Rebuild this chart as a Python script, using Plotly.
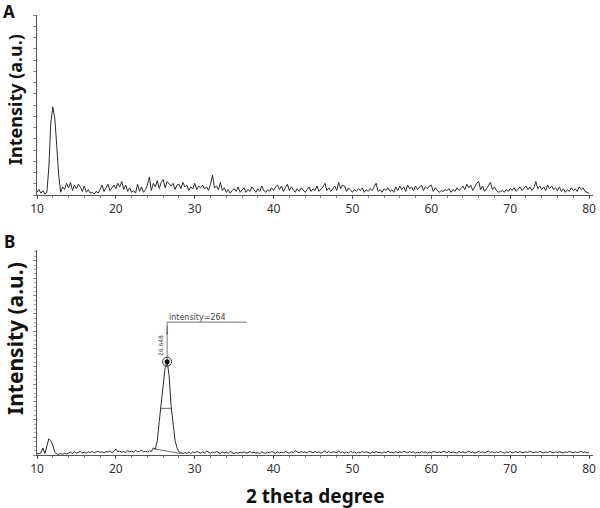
import numpy as np
import plotly.graph_objects as go

# ---------------- data ----------------
TWO_THETA_START = 10.0
TWO_THETA_STEP = 0.25

intensity_A = [
    3, 6, 2, 5,   1, 3, 30, 80,   98, 86, 55, 22,   3, 9, 6, 13,
    8, 14, 5, 11,  7, 12, 9, 4,   10, 3, 6, 2,   3, 1, 4, 2,
    6, 11, 4, 9,  12, 5, 8, 11,   7, 13, 9, 15,   6, 11, 4, 8,
    3, 5, 2, 12,  4, 9, 3, 6,   11, 20, 5, 13,   9, 16, 7, 14,
    17, 8, 15, 12,  10, 13, 6, 11,   12, 7, 14, 9,   11, 5, 9, 7,
    13, 6, 10, 8,  11, 7, 9, 5,   12, 22, 8, 10,   6, 14, 5, 8,
    3, 6, 2, 5,   7, 4, 9, 3,   5, 8, 3, 6,   4, 9, 6, 3,
    7, 4, 10, 5,  3, 6, 4, 8,   5, 9, 11, 6,   10, 4, 8, 12,
    5, 9, 6, 3,   7, 4, 8, 5,   3, 6, 9, 4,   7, 5, 10, 4,
    6, 9, 13, 5,  8, 4, 7, 10,   5, 14, 7, 11,   10, 4, 8, 5,
    3, 6, 4, 7,   5, 8, 3, 6,   4, 7, 5, 9,   13, 4, 6, 3,
    7, 5, 8, 4,   6, 3, 9, 5,   10, 6, 9, 4,   11, 7, 9, 5,
    10, 6, 8, 11,  5, 9, 7, 10,   11, 4, 8, 5,   3, 5, 4, 6,
    5, 7, 3, 6,   4, 8, 5, 7,   10, 6, 12, 8,   11, 5, 9, 13,
    15, 6, 10, 4,  7, 11, 14, 6,   9, 5, 3, 4,   5, 3, 6, 4,
    7, 5, 8, 4,   6, 9, 5, 7,   10, 6, 9, 5,   8, 15, 7, 10,
    6, 9, 5, 11,  7, 10, 6, 8,   5, 9, 4, 7,   3, 6, 4, 8,
    5, 7, 4, 9,   6, 8, 4, 3,   2,
]

intensity_B = [
    4, 3, 6, 20,   4, 28, 46, 40,   28, 8, 3, 2,   4, 2, 5, 3,
    6, 8, 4, 9,    5, 7, 10, 6,   8, 5, 9, 7,   10, 6, 8, 11,
    7, 9, 6, 10,   8, 12, 7, 10,   17, 9, 11, 8,   10, 7, 12, 9,
    11, 8, 13, 9,  10, 14, 9, 11,   8, 12, 10, 20,   16, 40, 95, 150,
    205, 248, 264, 225,   140, 82, 42, 20,   9, 6, 4, 7,   5, 8, 4, 9,
    6, 10, 7, 5,   9, 6, 11, 7,   5, 8, 6, 10,   7, 4, 9, 6,
    8, 5, 10, 6,   4, 7, 5, 8,   6, 9, 5, 7,   10, 6, 8, 5,
    7, 4, 9, 6,    5, 8, 6, 10,   7, 5, 9, 6,   8, 6, 10, 7,
    5, 9, 7, 12,   8, 6, 10, 7,   9, 5, 11, 8,   6, 10, 7, 9,
    5, 8, 12, 7,   10, 6, 9, 8,   7, 11, 6, 9,   5, 8, 6, 10,
    7, 9, 5, 8,    6, 10, 7, 9,   8, 5, 9, 6,   10, 7, 8, 5,
    9, 6, 11, 7,   8, 5, 10, 6,   9, 7, 11, 8,   6, 10, 7, 9,
    5, 8, 6, 10,   7, 9, 5, 8,   6, 10, 8, 7,   9, 6, 11, 8,
    7, 10, 6, 9,   8, 5, 10, 7,   9, 6, 8, 11,   7, 9, 5, 8,
    10, 7, 9, 6,   8, 11, 7, 9,   6, 9, 7, 10,   8, 5, 9, 7,
    10, 6, 8, 9,   7, 10, 6, 8,   9, 7, 11, 8,   6, 9, 7, 10,
    8, 6, 9, 7,    10, 8, 6, 9,   7, 9, 8, 6,   9, 7, 10, 8,
    6, 9, 7, 8,    10, 7, 9, 6,   8,
]

two_theta_A = [TWO_THETA_START + TWO_THETA_STEP * i for i in range(len(intensity_A))]
two_theta_B = [TWO_THETA_START + TWO_THETA_STEP * i for i in range(len(intensity_B))]

x_ticks = [10, 20, 30, 40, 50, 60, 70, 80]

# peak annotation data (panel B)
peak_x = 26.5
peak_y = 264
peak_label = "intensity=264"
peak_pos_label = "26.648"
bg_line_x = [24.75, 28.2]
bg_line_y = [18, 4]
fwhm_x = [25.62, 27.0]
fwhm_y = [132, 132]
leader_top_y = 376
leader_right_x = 36.6

LINE = "#2b2b2b"
AXIS = "#555555"
FONT = "Noto Sans"

fig = go.Figure()
fig.add_trace(go.Scatter(x=two_theta_A, y=intensity_A, mode="lines",
                         line=dict(color=LINE, width=1), xaxis="x", yaxis="y",
                         showlegend=False, hoverinfo="skip"))
fig.add_trace(go.Scatter(x=two_theta_B, y=intensity_B, mode="lines",
                         line=dict(color=LINE, width=1), xaxis="x2", yaxis="y2",
                         showlegend=False, hoverinfo="skip"))
# background line and FWHM bar
fig.add_trace(go.Scatter(x=bg_line_x, y=bg_line_y, mode="lines",
                         line=dict(color="#444", width=0.8), xaxis="x2", yaxis="y2",
                         showlegend=False, hoverinfo="skip"))
fig.add_trace(go.Scatter(x=fwhm_x, y=fwhm_y, mode="lines",
                         line=dict(color="#444", width=0.8), xaxis="x2", yaxis="y2",
                         showlegend=False, hoverinfo="skip"))
# leader line
fig.add_trace(go.Scatter(x=[peak_x, peak_x, leader_right_x],
                         y=[peak_y, leader_top_y, leader_top_y], mode="lines",
                         line=dict(color="#555", width=0.8), xaxis="x2", yaxis="y2",
                         showlegend=False, hoverinfo="skip"))
# peak marker
fig.add_trace(go.Scatter(x=[peak_x], y=[peak_y], mode="markers",
                         marker=dict(symbol="circle-open", size=9, color="#333", line=dict(width=1)),
                         xaxis="x2", yaxis="y2", showlegend=False, hoverinfo="skip"))
fig.add_trace(go.Scatter(x=[peak_x], y=[peak_y], mode="markers",
                         marker=dict(symbol="circle", size=5, color="#111"),
                         xaxis="x2", yaxis="y2", showlegend=False, hoverinfo="skip"))

x_common = dict(range=[10, 80.5], showline=True, linecolor=AXIS, linewidth=1,
                ticks="outside", ticklen=3, tickcolor=AXIS, tickvals=x_ticks,
                tickfont=dict(family=FONT, size=12, color="#333"),
                showgrid=False, zeroline=False,
                minor=dict(dtick=2, ticks="outside", ticklen=2, tickcolor="#888"))
y_common = dict(showline=True, linecolor=AXIS, linewidth=1, ticks="outside",
                ticklen=3, tickcolor="#888", showticklabels=False,
                showgrid=False, zeroline=False)

hA = (455 - 195) / 440
hB = (455 - 250) / 440

fig.update_layout(
    width=600, height=508,
    margin=dict(l=37, r=4, t=15, b=53),
    paper_bgcolor="white", plot_bgcolor="white",
    xaxis=dict(**x_common, anchor="y"),
    yaxis=dict(**y_common, domain=[hA, 1], range=[0, 200], anchor="x", dtick=12.5),
    xaxis2=dict(**x_common, anchor="y2"),
    yaxis2=dict(**y_common, domain=[0, hB], range=[0, 580], anchor="x2", dtick=50,
                minor=dict(dtick=12.5, ticks="outside", ticklen=2, tickcolor="#aaa")),
)

ann = []
ann.append(dict(text="<b>A</b>", xref="paper", yref="paper", x=0, y=(455 - 11) / 440,
                xshift=-28, xanchor="center", yanchor="middle", showarrow=False,
                font=dict(family=FONT, size=17, color="#111")))
ann.append(dict(text="<b>B</b>", xref="paper", yref="paper", x=0, y=(455 - 242) / 440,
                xshift=-28, xanchor="center", yanchor="middle", showarrow=False,
                font=dict(family=FONT, size=17, color="#111")))
ann.append(dict(text="<b>Intensity (a.u.)</b>", xref="paper", yref="paper", x=0,
                y=(455 - 100) / 440, xshift=-22, xanchor="center", yanchor="middle",
                textangle=-90, showarrow=False, font=dict(family=FONT, size=18, color="#111")))
ann.append(dict(text="<b>Intensity (a.u.)</b>", xref="paper", yref="paper", x=0,
                y=(455 - 339) / 440, xshift=-22, xanchor="center", yanchor="middle",
                textangle=-90, showarrow=False, font=dict(family=FONT, size=21, color="#111")))
ann.append(dict(text="<b>2 theta degree</b>", xref="paper", yref="paper",
                x=(316 - 37) / 559, y=(455 - 496) / 440, xanchor="center", yanchor="middle",
                showarrow=False, font=dict(family=FONT, size=19, color="#111")))
ann.append(dict(text=peak_label, xref="x2", yref="y2", x=peak_x, y=leader_top_y,
                xanchor="left", yanchor="bottom", showarrow=False, xshift=0, yshift=-2,
                font=dict(family="DejaVu Sans", size=8, color="#444")))
ann.append(dict(text=peak_pos_label, xref="x2", yref="y2", x=peak_x, y=310,
                xanchor="right", yanchor="middle", textangle=-90, showarrow=False,
                xshift=-1, font=dict(family="DejaVu Sans", size=6, color="#444")))
# small down arrow on leader
ann.append(dict(text="", xref="x2", yref="y2", x=peak_x, y=340, ax=peak_x, ay=370,
                axref="x2", ayref="y2", showarrow=True, arrowhead=2, arrowsize=0.6,
                arrowwidth=0.8, arrowcolor="#555"))
fig.update_layout(annotations=ann)

# remove the default 8px page margin so the figure sits at the window origin
fig.write_html("out.html", config={"displayModeBar": False},
               post_script="document.body.style.margin='0';")
